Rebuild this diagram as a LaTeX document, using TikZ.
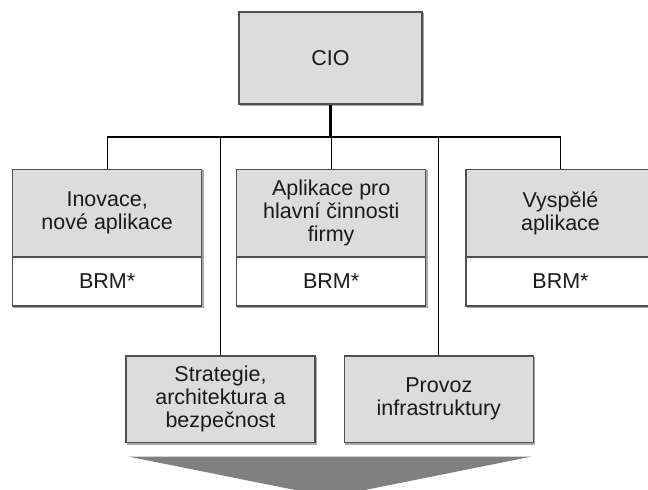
\documentclass[tikz,border=0pt]{standalone}
\usepackage{fontspec}
\setmainfont{Liberation Sans}
\definecolor{boxgray}{HTML}{DCDCDC}
\definecolor{edgegray}{HTML}{505050}
\definecolor{shadegray}{HTML}{A8A8A8}
\definecolor{arrowgray}{HTML}{808080}
\definecolor{inkgray}{HTML}{1A1A1A}
\begin{document}
\begin{tikzpicture}[x=1pt,y=-1pt,
  unit/.style={draw=edgegray,line width=1.3pt,inner sep=0pt,align=center,
    text=inkgray,font=\fontsize{21.5}{23}\selectfont,
    preaction={draw=shadegray,line width=1.3pt,transform canvas={shift={(1.2pt,-1.2pt)}}}},
  head/.style={unit,fill=boxgray,minimum width=189pt,minimum height=87.5pt},
  foot/.style={unit,fill=white,minimum width=189pt,minimum height=49pt},
  lower/.style={unit,fill=boxgray,minimum width=189pt,minimum height=86.7pt},
  link/.style={draw=black,line width=1.2pt}]
\useasboundingbox (0,0) rectangle (648,490);

% top of the hierarchy
\node[unit,fill=boxgray,minimum width=183pt,minimum height=92pt] (cio) at (330.5,58) {CIO};

% upper row: application units with their BRM part
\node[head] (inov) at (107.2,213.2) {Inovace,\\nové aplikace};
\node[foot] (inovb) at (107.2,281.5) {BRM*};
\node[head] (apl) at (331.2,213.2) {Aplikace pro\\hlavní činnosti\\firmy};
\node[foot] (aplb) at (331.2,281.5) {BRM*};
\node[head] (vysp) at (560.5,213.2) {Vyspělé\\aplikace};
\node[foot] (vyspb) at (560.5,281.5) {BRM*};

% lower row
\node[lower] (strat) at (220.5,399.3) {Strategie,\\architektura a\\bezpečnost};
\node[lower] (prov) at (438.8,399.3) {Provoz\\infrastruktury};

% connectors
\coordinate (bus) at (330.5,137);
\draw[link,line width=2.4pt] (cio.south) -- (bus);
\draw[link] (inov.north) |- (bus) -| (vysp.north);
\draw[link] (apl.north) -- (apl.north |- bus);
\draw[link] (strat.north) -- (strat.north |- bus);
\draw[link] (prov.north) -- (prov.north |- bus);

% broad downward arrow at the bottom
\fill[arrowgray] (128,456.5) -- (532,456.5) -- (330,497) -- cycle;
\end{tikzpicture}
\end{document}
